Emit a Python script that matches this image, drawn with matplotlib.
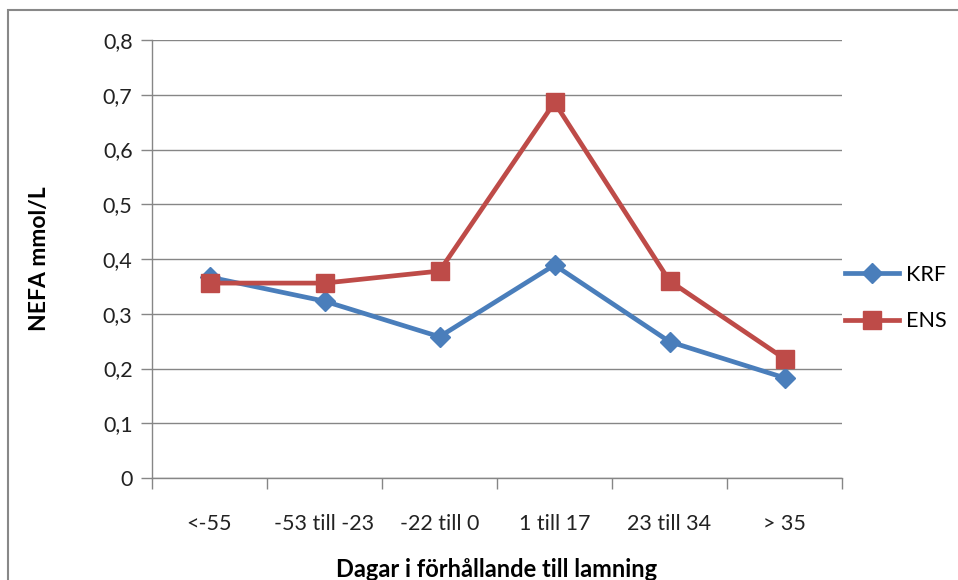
import matplotlib.pyplot as plt
from matplotlib.patches import Rectangle
from matplotlib.ticker import FuncFormatter

categories = ['<-55', '-53 till -23', '-22 till 0', '1 till 17', '23 till 34', '> 35']
krf = [0.367, 0.323, 0.258, 0.389, 0.249, 0.183]
ens = [0.356, 0.356, 0.378, 0.686, 0.360, 0.218]

plt.rcParams['font.family'] = ['Lato', 'DejaVu Sans']

fig = plt.figure(figsize=(9.58, 5.8), dpi=100)
W, H = 958, 580
ax = fig.add_axes([152 / W, 1 - 478 / H, 690 / W, 438 / H])

# outer chart border
fig.patches.append(Rectangle((8 / W, -0.1), 1.1, 1 - 10 / H + 0.1,
                             transform=fig.transFigure, fill=False,
                             edgecolor='#888888', linewidth=1.5))

x = range(len(categories))
ax.plot(x, krf, color='#4A7EBB', linewidth=3.4, marker='D', markersize=10,
        label='KRF', solid_joinstyle='round')
ax.plot(x, ens, color='#BE4B48', linewidth=3.4, marker='s', markersize=12.5,
        label='ENS', solid_joinstyle='round')

ax.set_xlim(-0.5, len(categories) - 0.5)
ax.set_ylim(0, 0.8)
ax.set_yticks([i / 10 for i in range(9)])
ax.yaxis.set_major_formatter(FuncFormatter(
    lambda v, p: '0' if v == 0 else f'{v:.1f}'.replace('.', ',')))
ax.grid(axis='y', color='#868686', linewidth=1)
ax.set_axisbelow(True)

ax.set_xticks([i - 0.5 for i in range(len(categories) + 1)])
ax.set_xticklabels([])
ax.set_xticks(list(x), minor=True)
ax.set_xticklabels(categories, minor=True)
ax.tick_params(axis='x', which='major', length=8, color='#868686', width=1)
ax.tick_params(axis='x', which='minor', length=0, pad=26, labelsize=15.5,
               labelcolor='#222222')
ax.tick_params(axis='y', length=8, color='#868686', width=1, pad=6,
               labelsize=15.5, labelcolor='#222222')

for s in ['top', 'right']:
    ax.spines[s].set_visible(False)
for s in ['left', 'bottom']:
    ax.spines[s].set_color('#868686')
    ax.spines[s].set_linewidth(1)

ax.set_ylabel('NEFA mmol/L', fontsize=16.5, fontweight='bold', labelpad=38)
ax.set_xlabel('Dagar i förhållande till lamning', fontsize=17,
              fontweight='bold', labelpad=17)

fig.legend(loc='center left', bbox_to_anchor=(826 / W, 1 - 298 / H),
           frameon=False, fontsize=15.5, handlelength=2.5, labelspacing=1.25,
           handletextpad=0.3)

fig.savefig('out.png', dpi=100)
